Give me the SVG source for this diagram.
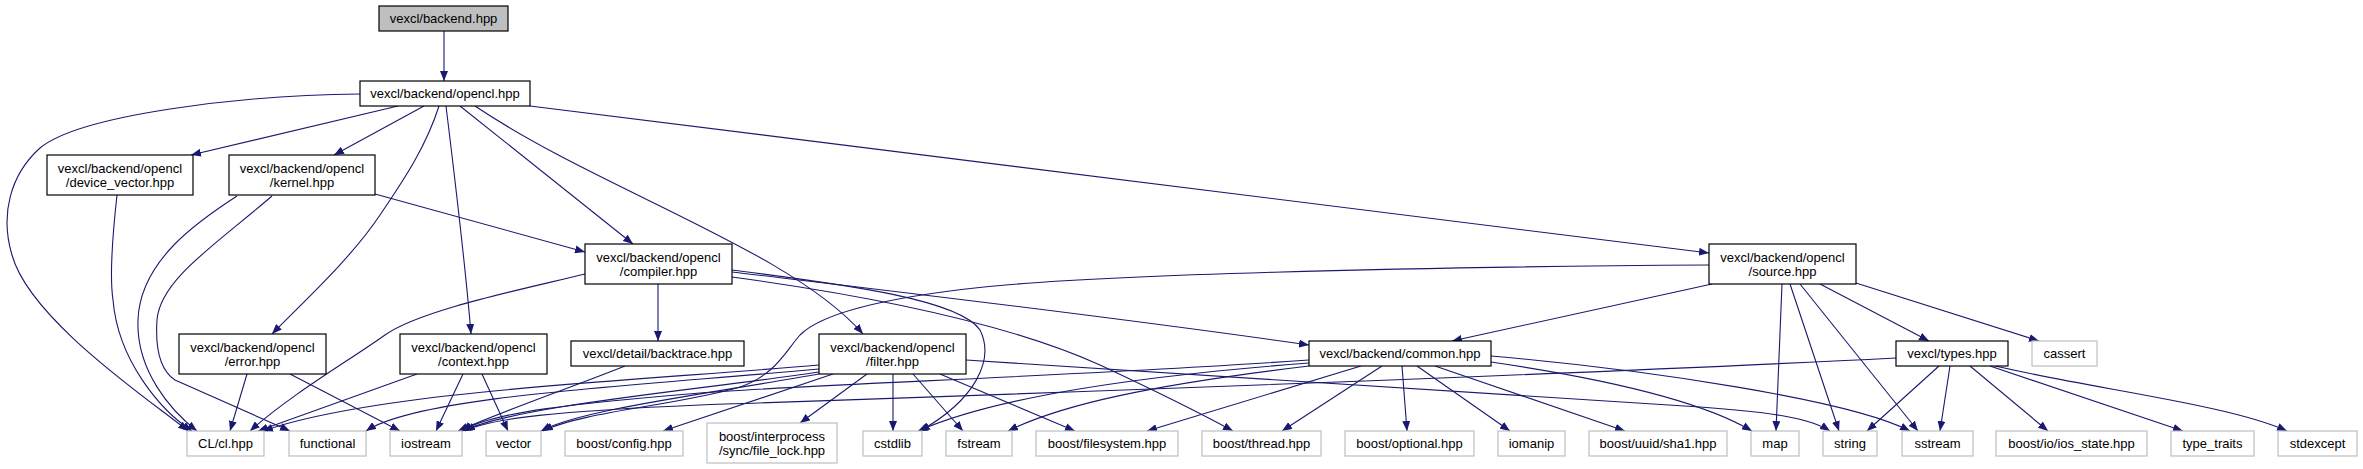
<svg xmlns="http://www.w3.org/2000/svg" width="2363" height="469" viewBox="0 0 2363 469">
<style>
.n rect{fill:#fff;stroke:#000;stroke-width:1.2}
.r rect{fill:#bfbfbf;stroke:#000;stroke-width:1.2}
.x rect{fill:#fff;stroke:#bfbfbf;stroke-width:1.2}
text{font-family:"Liberation Sans",Arial,sans-serif;font-size:13px;text-anchor:middle;fill:#000}
#edges path{fill:none;stroke:#191970;stroke-width:1.1;marker-end:url(#a)}
</style>
<defs>
<marker id="a" markerWidth="10" markerHeight="8" refX="10" refY="4" orient="auto" markerUnits="userSpaceOnUse"><path d="M0,0 L10,4 L0,8 z" fill="#191970" stroke="none"/></marker>
</defs>
<rect width="2363" height="469" fill="#fff"/>
<g id="edges">
<path d="M444,31 L444,81"/>
<path d="M360,94 C240,95 80,115 40,148 C10,175 0,215 12,255 C30,320 150,400 188,431"/>
<path d="M398,106 L191,155"/>
<path d="M424,106 L334,155"/>
<path d="M439,106 C425,150 400,185 380,215 C350,260 300,305 272,334"/>
<path d="M446,106 C455,180 465,260 471,334"/>
<path d="M460,106 L633,244"/>
<path d="M475,106 C600,190 790,250 863,334"/>
<path d="M530,106 L1709,253"/>
<path d="M117,195 C112,240 110,280 113,300 C118,360 160,410 192,431"/>
<path d="M237,196 C200,220 140,260 138,320 C136,370 170,410 197,431"/>
<path d="M272,196 C215,245 160,280 157,320 C155,350 160,370 175,380 L290,431"/>
<path d="M375,194 L585,252"/>
<path d="M247,374 L230,431"/>
<path d="M290,374 L400,431"/>
<path d="M417,374 L258,431"/>
<path d="M463,374 L436,431"/>
<path d="M482,374 L508,431"/>
<path d="M585,274 C520,290 420,310 385,335 C350,360 290,395 250,431"/>
<path d="M658,284 L658,341"/>
<path d="M732,272 C900,292 1100,315 1309,345"/>
<path d="M732,270 C850,285 960,300 980,330 C995,360 975,400 920,431"/>
<path d="M732,277 C850,293 1000,320 1100,365 C1160,393 1200,413 1233,431"/>
<path d="M625,366 C570,388 500,412 458,431"/>
<path d="M819,365 C650,380 380,390 263,431"/>
<path d="M819,369 C650,385 420,395 366,431"/>
<path d="M819,372 C700,390 520,405 462,431"/>
<path d="M819,374 C700,395 580,410 541,431"/>
<path d="M833,374 L663,431"/>
<path d="M867,374 L800,423"/>
<path d="M893,374 L893,431"/>
<path d="M913,374 L963,431"/>
<path d="M940,374 L1075,431"/>
<path d="M966,360 L1700,407 C1770,412 1810,418 1830,431"/>
<path d="M1309,360 C1100,375 800,385 700,393 C580,403 490,412 462,431"/>
<path d="M1896,358 C1500,378 900,398 700,405 C560,411 490,418 465,431"/>
<path d="M1309,363 C1150,375 1000,395 918,431"/>
<path d="M1309,366 C1150,385 1060,405 1008,431"/>
<path d="M1361,366 L1147,431"/>
<path d="M1382,366 L1282,431"/>
<path d="M1402,366 L1407,431"/>
<path d="M1417,366 L1510,431"/>
<path d="M1435,366 L1625,431"/>
<path d="M1491,362 C1600,378 1700,400 1752,431"/>
<path d="M1491,356 C1650,370 1850,400 1910,431"/>
<path d="M1712,284 L1452,341"/>
<path d="M1820,284 L1929,341"/>
<path d="M1856,283 L2039,341"/>
<path d="M1782,284 L1776,431"/>
<path d="M1790,284 L1839,431"/>
<path d="M1800,284 L1918,431"/>
<path d="M1709,265 C1400,267 1100,275 984,287 C880,298 820,315 800,335 C785,352 775,375 740,387 C680,405 580,412 543,431"/>
<path d="M1939,366 L1867,431"/>
<path d="M1950,366 L1940,431"/>
<path d="M1970,366 L2048,431"/>
<path d="M1990,366 L2183,431"/>
<path d="M1995,366 C2100,390 2230,405 2287,431"/>
</g>
<g id="backend" class="r"><rect x="379" y="6" width="129" height="25"/><text x="443.5" y="23">vexcl/backend.hpp</text></g>
<g id="opencl" class="n"><rect x="360" y="81" width="170" height="25"/><text x="445" y="98">vexcl/backend/opencl.hpp</text></g>
<g id="device_vector" class="n"><rect x="47" y="155" width="146" height="40"/><text x="120" y="173">vexcl/backend/opencl</text><text x="120" y="187">/device_vector.hpp</text></g>
<g id="kernel" class="n"><rect x="229" y="155" width="146" height="40"/><text x="302" y="173">vexcl/backend/opencl</text><text x="302" y="187">/kernel.hpp</text></g>
<g id="compiler" class="n"><rect x="585" y="244" width="147" height="40"/><text x="658.5" y="262">vexcl/backend/opencl</text><text x="658.5" y="276">/compiler.hpp</text></g>
<g id="source" class="n"><rect x="1709" y="244" width="147" height="40"/><text x="1782.5" y="262">vexcl/backend/opencl</text><text x="1782.5" y="276">/source.hpp</text></g>
<g id="error" class="n"><rect x="179" y="334" width="147" height="40"/><text x="252.5" y="352">vexcl/backend/opencl</text><text x="252.5" y="366">/error.hpp</text></g>
<g id="context" class="n"><rect x="400" y="334" width="147" height="40"/><text x="473.5" y="352">vexcl/backend/opencl</text><text x="473.5" y="366">/context.hpp</text></g>
<g id="backtrace" class="n"><rect x="571" y="341" width="173" height="25"/><text x="657.5" y="358">vexcl/detail/backtrace.hpp</text></g>
<g id="filter" class="n"><rect x="819" y="334" width="147" height="40"/><text x="892.5" y="352">vexcl/backend/opencl</text><text x="892.5" y="366">/filter.hpp</text></g>
<g id="common" class="n"><rect x="1309" y="341" width="182" height="25"/><text x="1400" y="358">vexcl/backend/common.hpp</text></g>
<g id="types" class="n"><rect x="1896" y="341" width="112" height="25"/><text x="1952" y="358">vexcl/types.hpp</text></g>
<g id="cassert" class="x"><rect x="2032" y="341" width="65" height="25"/><text x="2064.5" y="358">cassert</text></g>
<g id="cl" class="x"><rect x="187" y="431" width="77" height="25"/><text x="225.5" y="448">CL/cl.hpp</text></g>
<g id="functional" class="x"><rect x="289" y="431" width="77" height="25"/><text x="327.5" y="448">functional</text></g>
<g id="iostream" class="x"><rect x="390" y="431" width="72" height="25"/><text x="426" y="448">iostream</text></g>
<g id="vector" class="x"><rect x="486" y="431" width="55" height="25"/><text x="513.5" y="448">vector</text></g>
<g id="config" class="x"><rect x="565" y="431" width="118" height="25"/><text x="624" y="448">boost/config.hpp</text></g>
<g id="file_lock" class="x"><rect x="707" y="423" width="130" height="40"/><text x="772" y="441">boost/interprocess</text><text x="772" y="455">/sync/file_lock.hpp</text></g>
<g id="cstdlib" class="x"><rect x="863" y="431" width="59" height="25"/><text x="892.5" y="448">cstdlib</text></g>
<g id="fstream" class="x"><rect x="946" y="431" width="66" height="25"/><text x="979" y="448">fstream</text></g>
<g id="filesystem" class="x"><rect x="1036" y="431" width="142" height="25"/><text x="1107" y="448">boost/filesystem.hpp</text></g>
<g id="thread" class="x"><rect x="1202" y="431" width="119" height="25"/><text x="1261.5" y="448">boost/thread.hpp</text></g>
<g id="optional" class="x"><rect x="1345" y="431" width="129" height="25"/><text x="1409.5" y="448">boost/optional.hpp</text></g>
<g id="iomanip" class="x"><rect x="1498" y="431" width="67" height="25"/><text x="1531.5" y="448">iomanip</text></g>
<g id="sha1" class="x"><rect x="1589" y="431" width="138" height="25"/><text x="1658" y="448">boost/uuid/sha1.hpp</text></g>
<g id="map" class="x"><rect x="1751" y="431" width="48" height="25"/><text x="1775" y="448">map</text></g>
<g id="string" class="x"><rect x="1823" y="431" width="54" height="25"/><text x="1850" y="448">string</text></g>
<g id="sstream" class="x"><rect x="1902" y="431" width="71" height="25"/><text x="1937.5" y="448">sstream</text></g>
<g id="ios_state" class="x"><rect x="1996" y="431" width="151" height="25"/><text x="2071.5" y="448">boost/io/ios_state.hpp</text></g>
<g id="type_traits" class="x"><rect x="2171" y="431" width="83" height="25"/><text x="2212.5" y="448">type_traits</text></g>
<g id="stdexcept" class="x"><rect x="2278" y="431" width="79" height="25"/><text x="2317.5" y="448">stdexcept</text></g>
</svg>
